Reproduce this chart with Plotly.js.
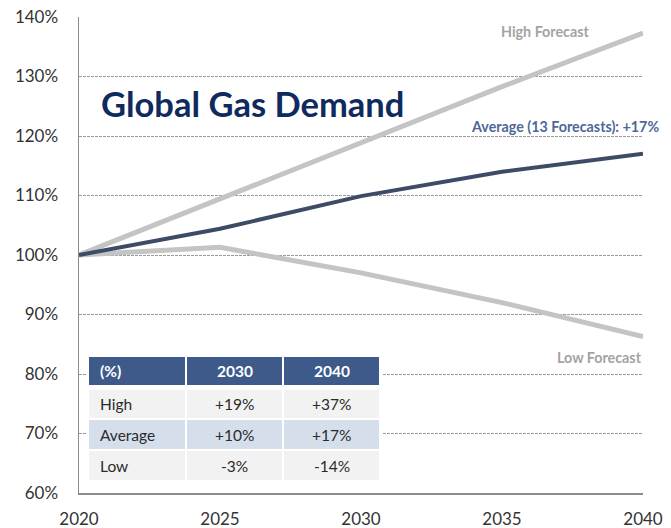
<!DOCTYPE html>
<html>
<head>
<meta charset="utf-8">
<script src="https://cdn.plot.ly/plotly-3.0.1.min.js"></script>
<style>
  html, body { margin: 0; padding: 0; background: #ffffff; }
  #chart { width: 671px; height: 528px; }
</style>
</head>
<body>
<div id="chart"></div>
<script>
// ---- data ----
const years = [2020, 2025, 2030, 2035, 2040];
const highForecast = [100, 109.5, 119, 128.3, 137.3];
const averageForecast = [100, 104.4, 109.9, 114, 117];
const lowForecast = [100, 101.3, 97, 92, 86.3];

const yTickVals = [60, 70, 80, 90, 100, 110, 120, 130, 140];
const xTickVals = [2020, 2025, 2030, 2035, 2040];

const tableHeader = ['(%)', '2030', '2040'];
const tableRowLabels = ['High', 'Average', 'Low'];
const table2030 = ['+19%', '+10%', '-3%'];
const table2040 = ['+37%', '+17%', '-14%'];

// ---- layout geometry helpers (pixel -> paper) ----
const W = 671, H = 528;
const L = 79, R = 643, T = 17, B = 493;
const px = x => (x - L) / (R - L);
const py = y => (B - y) / (B - T);

const FONT = 'Lato, "Open Sans", sans-serif';

const traces = [
  { x: years, y: highForecast, mode: 'lines', name: 'High',
    line: { color: '#c4c4c4', width: 5 }, hoverinfo: 'skip' },
  { x: years, y: lowForecast, mode: 'lines', name: 'Low',
    line: { color: '#c4c4c4', width: 5 }, hoverinfo: 'skip' },
  { x: years, y: averageForecast, mode: 'lines', name: 'Average',
    line: { color: '#3e4b66', width: 4 }, hoverinfo: 'skip' }
];

// ---- table as shapes + annotations ----
const colX = [[89, 185], [187, 282], [284, 379]];
const rowY = [[357, 385], [390, 418], [420, 449], [451, 480]];
const rowFill = ['#3d5a8a', '#f2f2f2', '#d5dfec', '#f2f2f2'];

const shapes = [];
const annotations = [];

// white background hiding gridlines behind table
shapes.push({ type: 'rect', xref: 'paper', yref: 'paper', layer: 'above',
  x0: px(86), x1: px(382), y0: py(354), y1: py(483),
  fillcolor: '#ffffff', line: { width: 0 } });

for (let r = 0; r < rowY.length; r++) {
  for (let c = 0; c < colX.length; c++) {
    shapes.push({ type: 'rect', xref: 'paper', yref: 'paper', layer: 'above',
      x0: px(colX[c][0]), x1: px(colX[c][1]), y0: py(rowY[r][1]), y1: py(rowY[r][0]),
      fillcolor: rowFill[r], line: { width: 0 } });
  }
}

function cellText(r, c) {
  if (r === 0) return tableHeader[c];
  const i = r - 1;
  if (c === 0) return tableRowLabels[i];
  if (c === 1) return table2030[i];
  return table2040[i];
}

for (let r = 0; r < rowY.length; r++) {
  for (let c = 0; c < colX.length; c++) {
    const yc = (rowY[r][0] + rowY[r][1]) / 2;
    const left = c === 0;
    annotations.push({
      xref: 'paper', yref: 'paper',
      x: left ? px(colX[c][0] + 9) : px((colX[c][0] + colX[c][1]) / 2),
      y: py(yc),
      xanchor: left ? 'left' : 'center', yanchor: 'middle',
      text: r === 0 ? '<b>' + cellText(r, c) + '</b>' : cellText(r, c),
      showarrow: false,
      font: { family: FONT, size: 15.5, color: r === 0 ? '#ffffff' : '#2b2b2b' }
    });
  }
}

// chart title & series labels
annotations.push({
  xref: 'paper', yref: 'paper', x: px(99), y: py(103),
  xanchor: 'left', yanchor: 'middle', showarrow: false,
  text: '<b>Global Gas Demand</b>',
  font: { family: FONT, size: 34.5, color: '#0f2a5e' }
});
annotations.push({
  xref: 'paper', yref: 'paper', x: px(545), y: py(31),
  xanchor: 'center', yanchor: 'middle', showarrow: false,
  text: '<b>High Forecast</b>',
  font: { family: FONT, size: 14.3, color: '#a3a3a3' }
});
annotations.push({
  xref: 'paper', yref: 'paper', x: px(661), y: py(127),
  xanchor: 'right', yanchor: 'middle', showarrow: false,
  text: '<b>Average (13 Forecasts): +17%</b>',
  font: { family: FONT, size: 14.3, color: '#4e6898' }
});
annotations.push({
  xref: 'paper', yref: 'paper', x: px(599), y: py(357),
  xanchor: 'center', yanchor: 'middle', showarrow: false,
  text: '<b>Low Forecast</b>',
  font: { family: FONT, size: 14.3, color: '#a3a3a3' }
});

const layout = {
  width: W, height: H,
  margin: { l: L, r: W - R, t: T, b: H - B, pad: 0 },
  paper_bgcolor: '#ffffff', plot_bgcolor: '#ffffff',
  showlegend: false,
  font: { family: FONT, color: '#333333' },
  xaxis: {
    range: [2020, 2040], tickvals: xTickVals, ticktext: xTickVals.map(String),
    showgrid: false, zeroline: false,
    showline: true, linecolor: '#8c8c8c', linewidth: 1.5,
    ticks: '', ticklabelstandoff: 10,
    tickfont: { family: FONT, size: 17, color: '#333333' },
    fixedrange: true
  },
  yaxis: {
    range: [60, 140], tickvals: yTickVals, ticktext: yTickVals.map(v => v + '%'),
    showgrid: true, gridcolor: '#9a9a9a', gridwidth: 1, griddash: '3px,1px',
    zeroline: false,
    showline: true, linecolor: '#8c8c8c', linewidth: 1.5,
    ticks: '', ticklabelstandoff: 16,
    tickfont: { family: FONT, size: 17, color: '#333333' },
    fixedrange: true
  },
  shapes: shapes,
  annotations: annotations
};

Plotly.newPlot('chart', traces, layout, { displayModeBar: false, staticPlot: true });
</script>
</body>
</html>
